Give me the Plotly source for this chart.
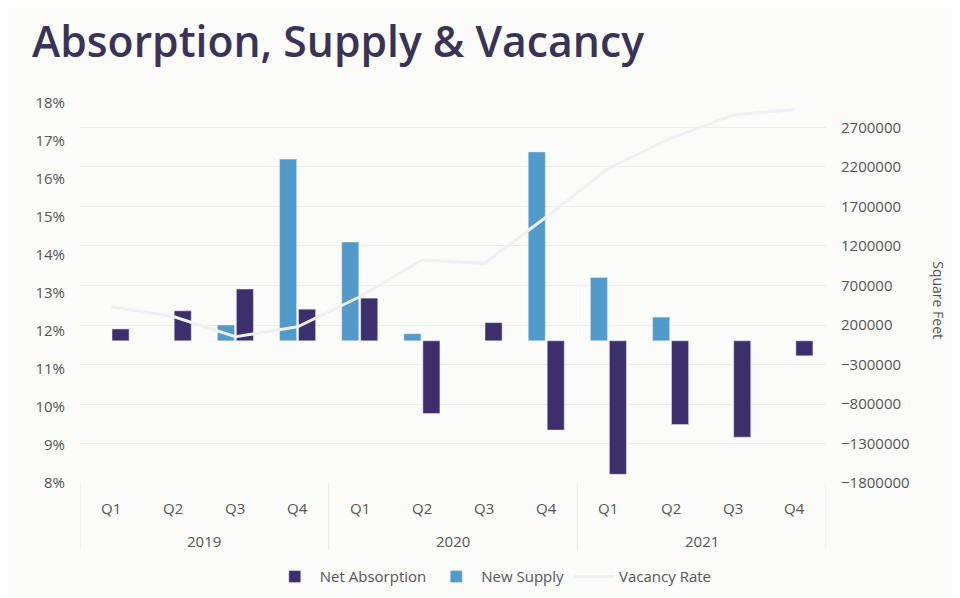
import plotly.graph_objects as go

year_names = ['2019', '2020', '2021']
quarter_names = ['Q1', 'Q2', 'Q3', 'Q4']
periods = [f'{y} {q}' for y in year_names for q in quarter_names]

# square feet (right axis)
net_absorption = [150000, 380000, 655000, 400000, 540000, -920000,
                  230000, -1130000, -1690000, -1060000, -1220000, -190000]
new_supply = [None, None, 200000, 2300000, 1250000, 90000,
              None, 2390000, 800000, 300000, None, None]
# percent (left axis)
vacancy_rate = [12.64, 12.38, 11.85, 12.11, 12.9, 13.87,
                13.78, 15.0, 16.28, 17.07, 17.68, 17.83]

dark = '#3d2f6b'
blue = '#519ac9'
grey = '#555555'
font = 'Open Sans'

fig = go.Figure()

# blue first so it sits on the left of each pair
fig.add_trace(go.Bar(
    x=periods, y=new_supply, name='New Supply',
    marker=dict(color=blue), legendrank=2, yaxis='y'
))
fig.add_trace(go.Bar(
    x=periods, y=net_absorption, name='Net Absorption',
    marker=dict(color=dark), legendrank=1, yaxis='y'
))
fig.add_trace(go.Scatter(
    x=periods, y=vacancy_rate, name='Vacancy Rate',
    mode='lines', line=dict(color='#eef0f3', width=3),
    legendrank=3, yaxis='y2'
))

# two-level category labels under the plot
annotations = []
for p in periods:
    annotations.append(dict(text=p.split(' ')[1], x=p, xref='x', y=-0.066, yref='paper',
                            yanchor='middle', showarrow=False,
                            font=dict(size=15, color=grey)))
n = len(quarter_names)
for i, y in enumerate(year_names):
    annotations.append(dict(text=y, x=i * n + (n - 1) / 2, xref='x', y=-0.153, yref='paper',
                            yanchor='middle', showarrow=False,
                            font=dict(size=15, color=grey)))
annotations.append(dict(text='Square Feet', textangle=90, x=1.166, y=0.48,
                        xref='paper', yref='paper', showarrow=False,
                        font=dict(size=14, color=grey)))

shapes = []
for i in range(len(year_names) + 1):
    shapes.append(dict(type='line', xref='x', yref='paper', x0=i * n - 0.5, x1=i * n - 0.5,
                       y0=0, y1=-0.176, line=dict(color='#e8e8e6', width=1)))

fig.update_layout(
    width=960, height=598,
    paper_bgcolor='#fbfbf9', plot_bgcolor='#fbfbf9',
    margin=dict(l=72, r=142, t=95, b=123),
    font=dict(family=font, size=15, color=grey),
    title=dict(text='Absorption, Supply & Vacancy', x=0.025, xanchor='left',
               y=0.943, yanchor='middle',
               font=dict(family=font, size=42.7, color='#3a3358', weight=600)),
    barmode='group', bargap=0.39, bargroupgap=0.1,
    xaxis=dict(showgrid=False, showline=False, ticks='', showticklabels=False,
               range=[-0.5, len(periods) - 0.5]),
    yaxis=dict(side='right', range=[-1800000, 3010000], tick0=-1800000, dtick=500000,
               showgrid=True, gridcolor='#ececea', gridwidth=1, zeroline=False,
               tickformat='d', ticks='', ticklabelstandoff=14,
               tickfont=dict(size=15, color=grey)),
    yaxis2=dict(side='left', overlaying='y', range=[8, 18], dtick=1,
                ticksuffix='%', showgrid=False, zeroline=False, ticks='',
                ticklabelstandoff=14, tickfont=dict(size=15, color=grey)),
    legend=dict(orientation='h', x=0.554, xanchor='center', y=-0.247, yanchor='middle',
                itemwidth=40, font=dict(size=15, color=grey), bgcolor='rgba(0,0,0,0)'),
    annotations=annotations,
    shapes=shapes,
    showlegend=True,
)

fig.write_html('out.html')
